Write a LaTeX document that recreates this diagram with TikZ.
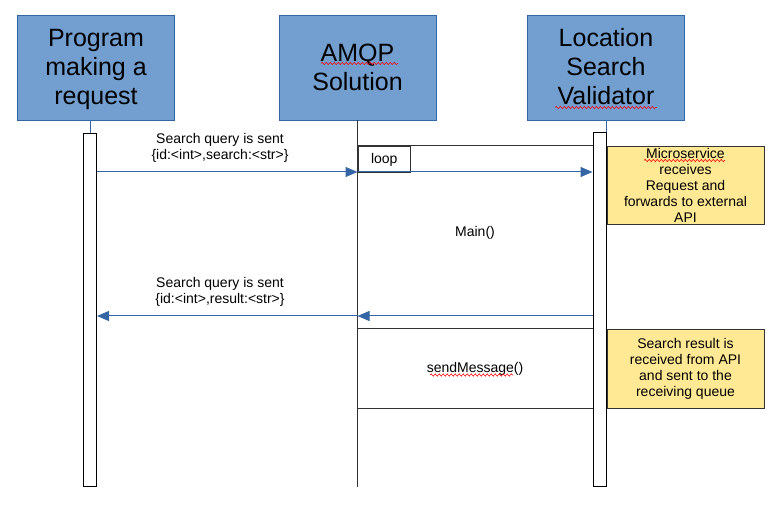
\documentclass[tikz,border=0pt]{standalone}
\usepackage{fontspec}
\setmainfont{Liberation Sans}
\usetikzlibrary{arrows.meta,decorations.pathmorphing}
\definecolor{hdrfill}{HTML}{729FCF}
\definecolor{hdrline}{HTML}{3465A4}
\definecolor{msgblue}{HTML}{3465A4}
\definecolor{notefill}{HTML}{FFE994}
\definecolor{frameline}{HTML}{333333}
\newcommand\hdrstrut{\rule[-6pt]{0pt}{29pt}}
\tikzset{
  hdr/.style={draw=hdrline, line width=0.8pt, fill=hdrfill, minimum width=157pt, minimum height=105pt,
    inner sep=0pt, align=center, font=\fontsize{25}{29}\selectfont},
  actbox/.style={draw=black, line width=1pt, fill=white, minimum width=13pt, minimum height=353pt, inner sep=0pt},
  lifeblue/.style={draw=msgblue, line width=0.8pt},
  lifedark/.style={draw=frameline, line width=1pt},
  msg/.style={draw=msgblue, line width=1pt, -{Triangle[length=12pt,width=10pt]}},
  frm/.style={draw=frameline, line width=1pt},
  notebox/.style={draw=frameline, line width=1pt, fill=notefill, minimum width=157pt, inner sep=0pt,
    align=center, font=\fontsize{14}{16}\selectfont},
  lbl/.style={inner sep=0pt, align=center, font=\fontsize{14}{16}\selectfont},
  spell/.style={draw=red, line width=0.6pt, decorate, decoration={snake, amplitude=1.1pt, segment length=4pt}}
}
\begin{document}
\begin{tikzpicture}[x=1pt,y=-1pt]
\useasboundingbox (0,0) rectangle (779,526);
% headers
\node[hdr] (p) at (96,67.5) {\hdrstrut Program\\\hdrstrut making a\\\hdrstrut request};
\node[hdr] (s) at (357.5,67.5) {\hdrstrut AMQP\\\hdrstrut Solution};
\node[hdr] (v) at (606,67.5) {\hdrstrut Location\\\hdrstrut Search\\\hdrstrut Validator};
% activation boxes
\node[actbox] (a1) at (90,310) {};
\node[actbox] (a3) at (599.5,309.5) {};
% lifelines
\draw[lifeblue] (a1.north |- p.south) -- (a1.north);
\draw[lifeblue] (a3.north east |- v.south) -- (a3.north east);
\coordinate (send) at (357.5,487);
\draw[lifedark] (s.south) -- (send);
% helper rows
\coordinate (r1) at (0,172);
\coordinate (r2) at (0,316);
\coordinate (f1) at (0,146);
\coordinate (f2) at (0,329);
\coordinate (f3) at (0,408);
% loop frame
\node[frm, draw, minimum width=52.5pt, minimum height=26pt, inner sep=0pt, anchor=north west,
  font=\fontsize{14}{16}\selectfont] (loop) at (s.south |- f1) {loop};
\draw[frm] (loop.north west) -- (a3.west |- f1);
% messages
\draw[msg] (a1.east |- r1) -- (s.south |- r1);
\draw[msg] (s.south |- r1) -- (a3.west |- r1);
\draw[msg] (a3.west |- r2) -- (s.south |- r2);
\draw[msg] (s.south |- r2) -- (a1.east |- r2);
\draw[frm] (s.south |- f2) -- (a3.west |- f2);
\draw[frm] (s.south |- f3) -- (a3.west |- f3);
% labels
\node[lbl] (l1) at (220,147.5) {Search query is sent\\\{id:<int>,search:<str>\}};
\node[lbl] (l2) at (220,292) {Search query is sent\\\{id:<int>,result:<str>\}};
\node[lbl] (mainlbl) at (475,233) {Main()};
\node[lbl] (sendlbl) at (475,369) {sendMessage()};
% notes
\node[notebox, minimum height=78.5pt, anchor=north west] (n1) at (a3.east |- f1)
  {Microservice\\receives\\Request and\\forwards to external\\API};
\node[notebox, minimum height=79pt, anchor=north west] (n2) at (a3.east |- f2)
  {Search result is\\received from API\\and sent to the\\receiving queue};
% spell-check underlines
\draw[spell] (321,63.5) -- (398,63.5);
\draw[spell] (555,107.5) -- (657,107.5);
\draw[spell] (644,160.5) -- (725,160.5);
\draw[spell] (430,375) -- (513,375);
\end{tikzpicture}
\end{document}
